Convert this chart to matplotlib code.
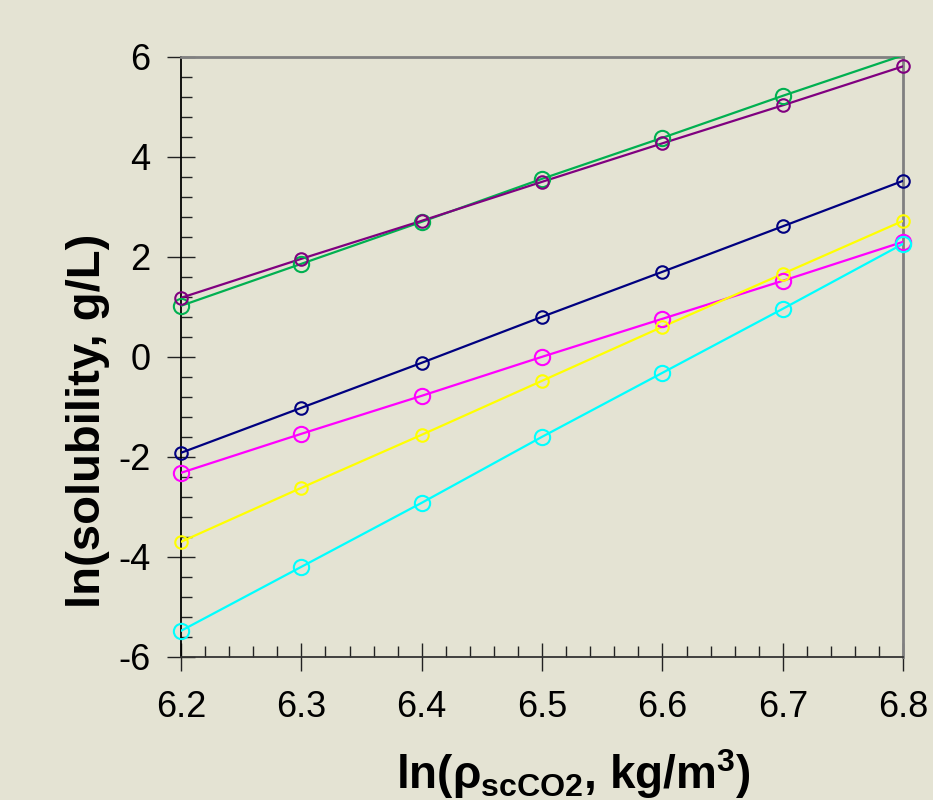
import numpy as np
import matplotlib
matplotlib.use('Agg')
import matplotlib.pyplot as plt
from matplotlib.ticker import MultipleLocator

plt.rcParams['font.family'] = ['Liberation Sans', 'DejaVu Sans']
plt.rcParams['mathtext.fontset'] = 'custom'
plt.rcParams['mathtext.rm'] = 'Liberation Sans:bold'
plt.rcParams['mathtext.it'] = 'Liberation Sans:bold'
plt.rcParams['mathtext.bf'] = 'Liberation Sans:bold'
plt.rcParams['mathtext.default'] = 'rm'

# ln(density) values
x = [6.2, 6.3, 6.4, 6.5, 6.6, 6.7, 6.8]

# ln(solubility) series
green = [1.02, 1.86, 2.70, 3.56, 4.38, 5.22, 6.03]
purple = [1.18, 1.96, 2.72, 3.50, 4.27, 5.03, 5.81]
navy = [-1.92, -1.02, -0.12, 0.80, 1.70, 2.61, 3.52]
magenta = [-2.32, -1.54, -0.78, 0.00, 0.76, 1.52, 2.30]
yellow = [-3.70, -2.62, -1.56, -0.48, 0.60, 1.66, 2.72]
cyan = [-5.48, -4.20, -2.92, -1.60, -0.32, 0.96, 2.26]

series = [
    (green, '#00b050', 11.0),
    (purple, '#800080', 9.0),
    (navy, '#000080', 9.0),
    (magenta, '#ff00ff', 11.0),
    (yellow, '#ffff00', 9.0),
    (cyan, '#00ffff', 11.0),
]

bg = '#e4e3d3'
fig = plt.figure(figsize=(9.33, 8), dpi=100, facecolor=bg)
ax = fig.add_axes([0.194, 0.179, 0.774, 0.75])
ax.set_facecolor(bg)

for ys, col, ms in series:
    ax.plot(x, ys, '-', color=col, lw=1.6, zorder=3)
    xs = np.array(x)
    yv = np.array(ys)
    keep = yv <= 6.0
    ax.plot(xs[keep], yv[keep], 'o', mfc='none', mec=col, mew=1.5, ms=ms,
            zorder=4, clip_on=False)

ax.set_xlim(6.2, 6.8)
ax.set_ylim(-6, 6)
ax.xaxis.set_minor_locator(MultipleLocator(0.02))
ax.yaxis.set_minor_locator(MultipleLocator(0.4))
ax.set_xticks(x)
ax.set_xticklabels(['6.2', '6.3', '6.4', '6.5', '6.6', '6.7', '6.8'])
ax.set_yticks([-6, -4, -2, 0, 2, 4, 6])
ax.set_yticklabels(['-6', '-4', '-2', '0', '2', '4', '6'])

ax.tick_params(which='major', direction='inout', length=20, width=1.0,
               color='#222222', labelsize=26, top=False, right=False)
ax.tick_params(axis='y', which='major', pad=12)
ax.tick_params(axis='x', which='major', pad=14)
ax.tick_params(which='minor', direction='in', length=8, width=1.0,
               color='#222222', top=False, right=False)

for side in ['top', 'right']:
    ax.spines[side].set_color('#808080')
    ax.spines[side].set_linewidth(2)
ax.spines['left'].set_color('#000000')
ax.spines['left'].set_linewidth(1.3)
ax.spines['bottom'].set_color('#333333')
ax.spines['bottom'].set_linewidth(1.3)

fig.text(0.094, 0.474, 'ln(solubility, g/L)', rotation=90, ha='center',
         va='center', fontsize=34, fontweight='bold')
fig.text(0.615, 0.014, r'ln($\rho_{scCO2}$, kg/m$^{3}$)', ha='center',
         va='baseline', fontsize=33, fontweight='bold')

fig.savefig('out.png', dpi=100, facecolor=bg)
